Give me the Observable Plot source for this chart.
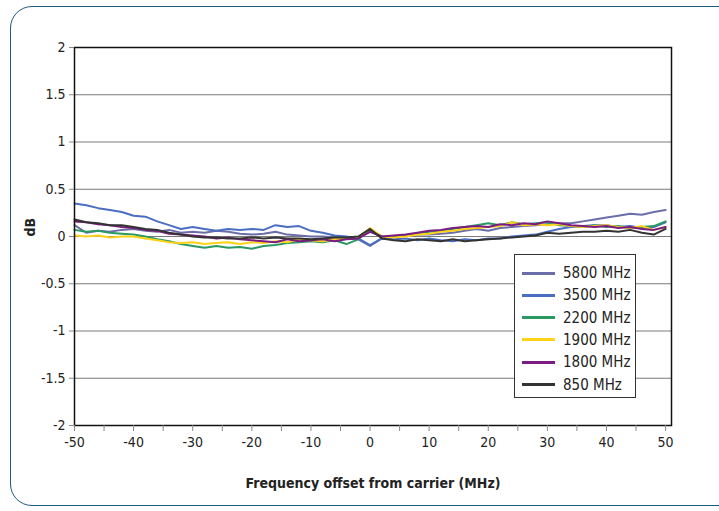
<!DOCTYPE html>
<html>
<head>
<meta charset="utf-8">
<script src="https://cdn.jsdelivr.net/npm/d3@7"></script>
<script src="https://cdn.jsdelivr.net/npm/@observablehq/plot@0.6"></script>
<style>
  html, body { margin: 0; padding: 0; background: #fff; overflow: hidden; }
  #wrap { position: relative; width: 719px; height: 511px; overflow: hidden;
    font-family: "Liberation Sans Narrow", "DejaVu Sans Condensed", "Roboto Condensed", sans-serif; }
  #border { position: absolute; left: 10px; top: 6px; width: 760px; height: 500px;
    border: 1.5px solid #1f5a7c; border-radius: 22px; box-sizing: border-box; pointer-events: none; }
  #legend { position: absolute; left: 514px; top: 254px; width: 122px; height: 144px;
    border: 1px solid #333; background: #fff; box-sizing: border-box; }
  .row { position: absolute; left: 0; height: 20px; }
  .sw { position: absolute; left: 7px; top: 8.5px; width: 33px; height: 3px; }
  .lb { position: absolute; left: 48px; top: 0; font-size: 15px; line-height: 20px; color: #222; white-space: nowrap; }
</style>
</head>
<body>
<div id="wrap">
  <div id="chart"></div>
  <div id="legend"></div>
  <div id="border"></div>
</div>
<script>
const offsets = [-50,-48,-46,-44,-42,-40,-38,-36,-34,-32,-30,-28,-26,-24,-22,-20,-18,-16,-14,-12,-10,-8,-6,-4,-2,0,2,4,6,8,10,12,14,16,18,20,22,24,26,28,30,32,34,36,38,40,42,44,46,48,50];

const s5800 = [0.12,0.04,0.06,0.05,0.07,0.08,0.06,0.05,0.07,0.04,0.05,0.04,0.06,0.05,0.03,0.02,0.03,0.05,0.02,0.01,0.00,0.00,-0.01,-0.02,-0.03,-0.10,-0.02,0.00,0.01,0.02,0.02,0.03,0.04,0.06,0.08,0.06,0.09,0.10,0.11,0.12,0.13,0.14,0.14,0.16,0.18,0.20,0.22,0.24,0.23,0.26,0.28];
const s3500 = [0.35,0.33,0.30,0.28,0.26,0.22,0.21,0.16,0.12,0.08,0.10,0.08,0.06,0.08,0.07,0.08,0.07,0.12,0.10,0.11,0.06,0.04,0.01,0.00,-0.02,-0.09,-0.02,-0.03,-0.02,-0.04,-0.02,-0.04,-0.05,-0.03,-0.04,-0.02,-0.02,0.00,0.01,0.02,0.05,0.08,0.10,0.11,0.12,0.12,0.10,0.11,0.09,0.10,0.15];
const s2200 = [0.07,0.05,0.06,0.04,0.03,0.02,0.00,-0.03,-0.05,-0.08,-0.10,-0.12,-0.10,-0.12,-0.11,-0.13,-0.10,-0.09,-0.07,-0.06,-0.05,-0.06,-0.04,-0.08,-0.03,0.07,0.00,0.00,0.01,0.03,0.05,0.06,0.08,0.10,0.12,0.14,0.12,0.15,0.13,0.14,0.15,0.12,0.11,0.10,0.12,0.10,0.11,0.09,0.10,0.11,0.16];
const s1900 = [0.01,0.00,0.01,-0.01,0.00,0.00,-0.02,-0.04,-0.06,-0.07,-0.06,-0.08,-0.07,-0.06,-0.08,-0.06,-0.07,-0.05,-0.06,-0.03,-0.04,-0.05,-0.03,-0.02,-0.01,0.09,0.00,-0.01,0.00,0.02,0.03,0.05,0.06,0.08,0.09,0.10,0.11,0.15,0.12,0.13,0.12,0.13,0.11,0.10,0.11,0.12,0.10,0.09,0.11,0.07,0.10];
const s1800 = [0.16,0.15,0.13,0.12,0.10,0.09,0.07,0.06,0.03,0.02,0.01,0.00,-0.02,-0.01,-0.03,-0.04,-0.05,-0.06,-0.03,-0.05,-0.04,-0.03,-0.05,-0.03,-0.02,0.05,0.00,0.01,0.02,0.04,0.06,0.07,0.09,0.10,0.11,0.10,0.13,0.12,0.14,0.13,0.16,0.14,0.12,0.11,0.10,0.11,0.09,0.10,0.08,0.07,0.10];
const s850  = [0.18,0.15,0.14,0.12,0.12,0.10,0.08,0.07,0.04,0.02,0.00,-0.01,-0.01,-0.02,-0.02,-0.01,-0.02,-0.01,-0.02,-0.02,-0.03,-0.02,-0.01,-0.01,0.00,0.08,-0.02,-0.04,-0.05,-0.03,-0.04,-0.05,-0.03,-0.05,-0.04,-0.03,-0.02,-0.01,0.00,0.01,0.04,0.03,0.04,0.05,0.05,0.06,0.05,0.07,0.04,0.02,0.08];

const seriesNames = ["5800 MHz","3500 MHz","2200 MHz","1900 MHz","1800 MHz","850 MHz"];
const seriesColors = ["#6b6ea8","#4a6ec2","#2a9a62","#ffd21a","#7c1c82","#333333"];
const seriesValues = [s5800, s3500, s2200, s1900, s1800, s850];

const yTicks = [-2,-1.5,-1,-0.5,0,0.5,1,1.5,2];
const xTicks = [-50,-45,-40,-35,-30,-25,-20,-15,-10,-5,0,5,10,15,20,25,30,35,40,45,50];
const xLabels = [-50,-40,-30,-20,-10,0,10,20,30,40,50];

const data = [];
seriesNames.forEach((name, i) => {
  offsets.forEach((x, j) => data.push({series: name, x, y: seriesValues[i][j]}));
});

const font = '"Liberation Sans Narrow", "DejaVu Sans Condensed", sans-serif';

const chart = Plot.plot({
  width: 719,
  height: 511,
  marginLeft: 74,
  marginRight: 48,
  marginTop: 47,
  marginBottom: 86,
  style: {fontFamily: font, fontSize: "14px", color: "#222", background: "transparent"},
  x: {domain: [-50, 51]},
  y: {domain: [-2, 2]},
  color: {domain: seriesNames, range: seriesColors},
  marks: [
    Plot.gridY(yTicks, {stroke: "#7a7a7a", strokeOpacity: 1, strokeWidth: 1}),
    Plot.line(data, {x: "x", y: "y", z: "series", stroke: "series", strokeWidth: 2, curve: "linear"}),
    Plot.frame({stroke: "#111", strokeWidth: 1.5}),
    Plot.axisY(yTicks, {tickSize: 5, tickPadding: 4, tickFormat: d => String(d), stroke: "#888", label: null, fontSize: 14}),
    Plot.axisX(xTicks, {tickSize: 6, tickPadding: 6, tickFormat: d => xLabels.includes(d) ? String(d) : "", stroke: "#888", label: null, fontSize: 14}),
    Plot.text(["Frequency offset from carrier (MHz)"], {frameAnchor: "bottom", dy: 62, fontWeight: "bold", fontSize: 14, fill: "#222"}),
    Plot.text(["dB"], {frameAnchor: "left", dx: -44, rotate: -90, fontWeight: "bold", fontSize: 14, fill: "#222"})
  ]
});
document.getElementById("chart").appendChild(chart);

const legend = document.getElementById("legend");
seriesNames.forEach((name, i) => {
  const row = document.createElement("div");
  row.className = "row";
  row.style.top = (8 + i * 22.3) + "px";
  row.innerHTML = `<div class="sw" style="background:${seriesColors[i]}"></div><div class="lb">${name}</div>`;
  legend.appendChild(row);
});
</script>
</body>
</html>
